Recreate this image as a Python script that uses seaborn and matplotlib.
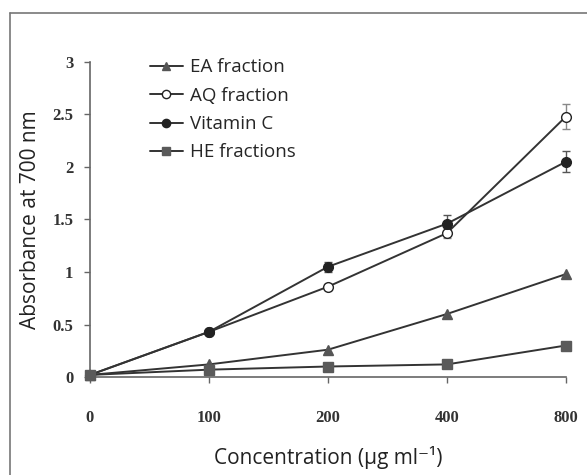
import numpy as np
import pandas as pd
import seaborn as sns
import matplotlib.pyplot as plt
from matplotlib.lines import Line2D

# data
concentrations = ['0', '100', '200', '400', '800']
ea_fraction = [0.02, 0.12, 0.26, 0.60, 0.98]
aq_fraction = [0.02, 0.43, 0.86, 1.37, 2.48]
vitamin_c = [0.02, 0.43, 1.05, 1.46, 2.05]
he_fractions = [0.02, 0.07, 0.10, 0.12, 0.30]
aq_err = [0.0, 0.02, 0.03, 0.05, 0.12]
vc_err = [0.0, 0.02, 0.05, 0.08, 0.10]
y_ticks = [0, 0.5, 1, 1.5, 2, 2.5, 3]
y_tick_labels = ['0', '0.5', '1', '1.5', '2', '2.5', '3']

sns.set_style('white')
plt.rcParams['font.family'] = ['Open Sans', 'DejaVu Sans']

fig = plt.figure(figsize=(5.87, 4.75), dpi=100)
ax = fig.add_axes([0.1533, 0.2063, 0.964 - 0.1533, 0.8695 - 0.2063])

pos = np.arange(len(concentrations))
series = [
    ('EA fraction', ea_fraction, '^', '#555555', '#555555'),
    ('AQ fraction', aq_fraction, 'o', 'white', '#222222'),
    ('Vitamin C', vitamin_c, 'o', '#222222', '#222222'),
    ('HE fractions', he_fractions, 's', '#5a5a5a', '#5a5a5a'),
]

for name, vals, mk, fc, ec in series:
    df = pd.DataFrame({'x': pos, 'y': vals})
    sns.lineplot(data=df, x='x', y='y', ax=ax, color='#333333', lw=1.4,
                 marker=mk, markersize=7, markerfacecolor=fc,
                 markeredgecolor=ec, markeredgewidth=1.0, label=name,
                 clip_on=False, zorder=3)

ax.errorbar(pos, aq_fraction, yerr=aq_err, fmt='none', ecolor='#888888',
            elinewidth=1, capsize=3, zorder=2, clip_on=False)
ax.errorbar(pos, vitamin_c, yerr=vc_err, fmt='none', ecolor='#555555',
            elinewidth=1, capsize=3, zorder=2, clip_on=False)

ax.set_xlim(0, 4)
ax.set_ylim(0, 3)
ax.set_xticks(pos)
ax.set_xticklabels(concentrations, fontfamily='Liberation Serif',
                   fontweight='bold', fontsize=12, color='#333333')
ax.set_yticks(y_ticks)
ax.set_yticklabels(y_tick_labels, fontfamily='Liberation Serif',
                   fontweight='bold', fontsize=12, color='#333333')
ax.tick_params(axis='x', direction='out', length=4, width=1, color='#666666',
               pad=20, bottom=True)
ax.tick_params(axis='y', direction='out', length=4, width=1, color='#666666',
               pad=8, left=True)

for side in ['top', 'right']:
    ax.spines[side].set_visible(False)
for side in ['left', 'bottom']:
    ax.spines[side].set_color('#666666')
    ax.spines[side].set_linewidth(1.2)

ax.set_xlabel('Concentration (µg ml⁻¹)', fontsize=15, color='#222222',
              labelpad=14)
ax.set_ylabel('Absorbance at 700 nm', fontsize=15, color='#222222',
              labelpad=8)

ax.legend(loc='upper left', bbox_to_anchor=(0.11, 1.035), frameon=False,
          fontsize=13.5, handlelength=1.75, handletextpad=0.4,
          labelspacing=0.55, borderaxespad=0, markerscale=0.85)

# outer frame of the figure panel
fig.add_artist(Line2D([10 / 587, 1], [1 - 13 / 475, 1 - 13 / 475],
                      color='#777777', lw=1.2, transform=fig.transFigure))
fig.add_artist(Line2D([10 / 587, 10 / 587], [0, 1 - 13 / 475],
                      color='#777777', lw=1.2, transform=fig.transFigure))

fig.savefig('out.png', dpi=100)
